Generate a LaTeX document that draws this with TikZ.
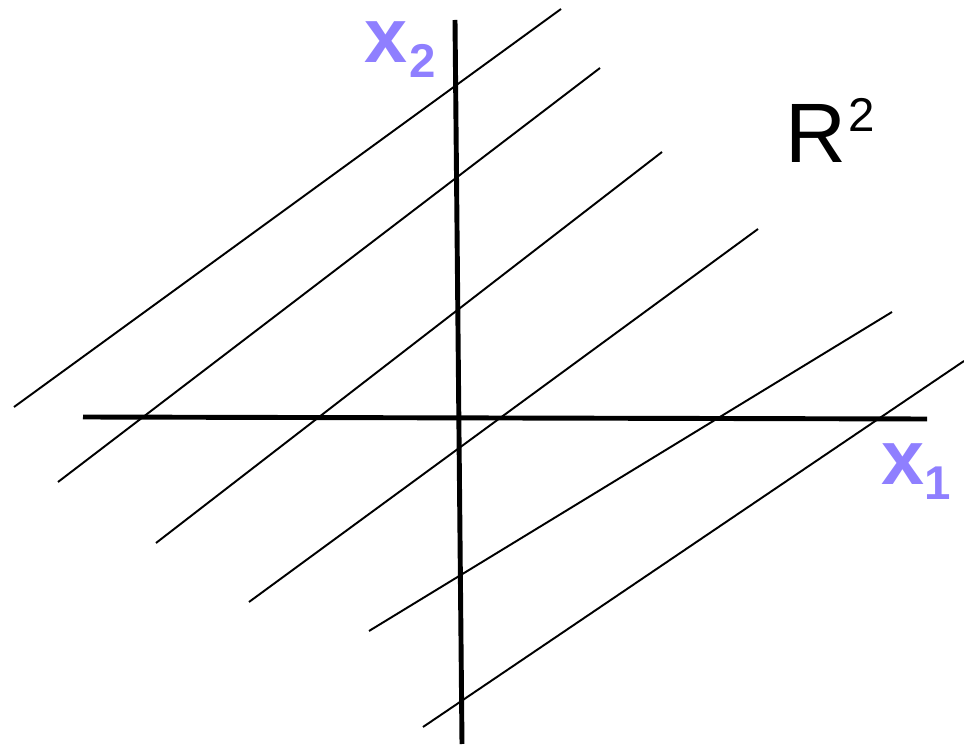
\documentclass[tikz,border=0pt]{standalone}
\usepackage{fontspec}
\setmainfont{Liberation Sans}
\definecolor{axlab}{HTML}{8F7FFF}
\tikzset{axis/.style={line width=2.8pt},hatch/.style={line width=1.1pt},
  axlabel/.style={text=axlab,font=\fontsize{44}{44}\selectfont\bfseries,anchor=base west,inner sep=0pt}}
\begin{document}
\begin{tikzpicture}[x=0.02cm,y=-0.02cm]
\useasboundingbox (0,0) rectangle (964,746);
\foreach \a/\b/\c/\d in {14/407/561/9,58/482/600/68,156/543/662/152,249/602/758/229,369/631/892/312,423/727/964/361}{\draw[hatch] (\a,\b)--(\c,\d);}
\draw[axis] (83,417)--(927,419);\draw[axis] (455,20)--(462,744);
\node[axlabel] (xtwo) at (364,63){x\kern1pt\raisebox{-8pt}{\fontsize{27}{27}\selectfont 2}};
\node[axlabel] (xone) at (881,485){x\raisebox{-8pt}{\fontsize{27}{27}\selectfont 1}};
\node[anchor=base west,inner sep=0pt,font=\fontsize{48}{48}\selectfont] (rtwo) at (785,163){R\kern1pt\raisebox{18pt}{\fontsize{27}{27}\selectfont 2}};
\end{tikzpicture}
\end{document}
